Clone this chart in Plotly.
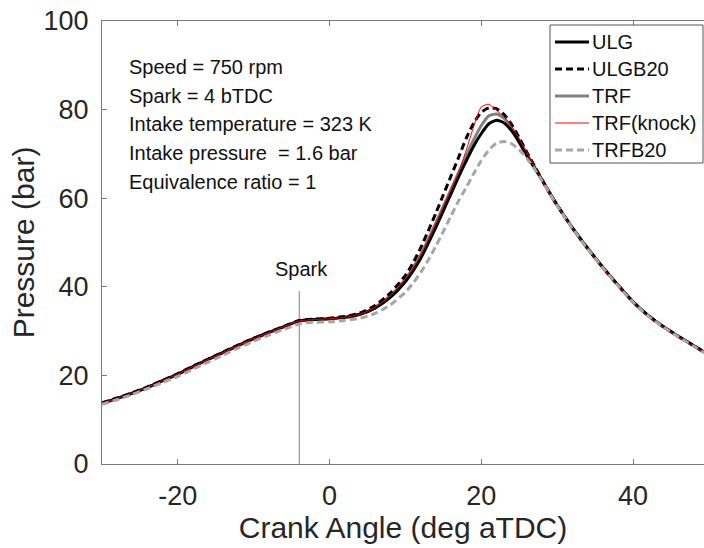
import plotly.graph_objects as go

# ---------------- data ----------------
angles = [-30, -28, -26, -24, -22, -20, -18, -16, -14, -12, -10, -8, -6, -4, -2,
          0, 2, 4, 6, 8, 10, 11, 12, 13, 14, 15, 16, 17, 18, 19, 20, 21, 22, 23,
          24, 25, 26, 27, 28, 29, 30, 32, 34, 36, 38, 40, 42, 44, 46, 48, 50]

ulg = [13.7, 14.8, 16.0, 17.3, 18.8, 20.3, 22.0, 23.6, 25.2, 26.8, 28.3, 29.7, 31.0, 32.3, 32.6,
       32.8, 33.1, 33.8, 35.2, 37.6, 41.2, 43.6, 46.4, 49.8, 53.4, 57.2, 61.0, 64.8, 68.4, 71.8,
       74.6, 76.8, 77.6, 77.0, 75.2, 72.6, 69.6, 66.9, 64.1, 61.2, 58.4, 53.3, 48.7, 44.4, 40.4,
       36.6, 33.5, 31.0, 28.8, 26.7, 24.6]

ulgb20 = [13.8, 14.9, 16.1, 17.4, 18.9, 20.4, 22.1, 23.7, 25.3, 26.9, 28.4, 29.8, 31.1, 32.4, 32.7,
          32.9, 33.3, 34.1, 35.8, 38.6, 42.6, 45.4, 48.8, 52.6, 56.6, 60.8, 65.0, 69.2, 73.5, 77.0,
          79.4, 80.4, 80.2, 78.9, 76.6, 73.6, 70.4, 67.3, 64.2, 61.2, 58.4, 53.3, 48.7, 44.4, 40.4,
          36.6, 33.5, 31.0, 28.8, 26.7, 24.6]

trf = [13.7, 14.8, 16.0, 17.3, 18.8, 20.3, 22.0, 23.6, 25.2, 26.8, 28.3, 29.7, 31.0, 32.3, 32.6,
       32.8, 33.1, 33.8, 35.4, 38.0, 41.8, 44.3, 47.2, 50.7, 54.4, 58.2, 62.0, 65.8, 69.6, 73.2,
       76.4, 78.6, 79.0, 78.0, 75.9, 73.1, 70.0, 67.0, 64.1, 61.2, 58.4, 53.3, 48.7, 44.4, 40.4,
       36.6, 33.5, 31.0, 28.8, 26.7, 24.6]

trf_knock = [13.7, 14.8, 16.0, 17.3, 18.8, 20.3, 22.0, 23.6, 25.2, 26.8, 28.3, 29.7, 31.0, 32.3, 32.6,
             32.8, 33.1, 33.8, 35.4, 38.0, 41.8, 44.3, 47.2, 50.7, 54.4, 58.2, 62.0, 65.8, 70.8, 76.2,
             80.6, 81.2, 79.8, 78.4, 76.2, 73.4, 70.3, 67.2, 64.0, 61.0, 58.2, 53.1, 48.5, 44.2, 40.2,
             36.4, 33.3, 30.8, 28.6, 26.5, 24.4]

trfb20 = [13.5, 14.5, 15.7, 17.0, 18.4, 19.8, 21.4, 23.0, 24.6, 26.2, 27.7, 29.1, 30.4, 31.6, 32.0,
          32.1, 32.4, 32.9, 34.0, 35.9, 38.8, 40.8, 43.2, 46.0, 49.2, 52.5, 56.0, 59.4, 62.4, 65.6,
          68.5, 70.9, 72.4, 72.8, 72.3, 70.9, 69.0, 66.6, 63.9, 61.1, 58.3, 53.2, 48.6, 44.3, 40.3,
          36.5, 33.4, 30.9, 28.7, 26.6, 24.5]

spark_angle = -4
spark_line_top = 39

series_names = ["ULG", "ULGB20", "TRF", "TRF(knock)", "TRFB20"]
info_lines = ["Speed = 750 rpm", "Spark = 4 bTDC", "Intake temperature = 323 K",
              "Intake pressure  = 1.6 bar", "Equivalence ratio = 1"]

x_ticks = [-20, 0, 20, 40]
x_tick_labels = ["-20", "0", "20", "40"]
y_ticks = [0, 20, 40, 60, 80, 100]
y_tick_labels = ["0", "20", "40", "60", "80", "100"]

# ---------------- figure ----------------
FONT = "Liberation Sans, Arial, Helvetica, sans-serif"
TXT = "#262626"
AX = "#7a7a7a"
L, T, W, H = 102, 21, 602, 443


def px(xp):
    return (xp - L) / W


def py(yp):
    return 1 - (yp - T) / H


fig = go.Figure()

# spark marker line
fig.add_trace(go.Scatter(x=[spark_angle, spark_angle], y=[0, spark_line_top], mode="lines",
                         line=dict(color="#7f7f7f", width=1), showlegend=False, hoverinfo="skip"))

styles = {
    "ULG": dict(color="#000000", width=3),
    "ULGB20": dict(color="#000000", width=3, dash="7px,4px"),
    "TRF": dict(color="#808080", width=3),
    "TRF(knock)": dict(color="#ff0000", width=1),
    "TRFB20": dict(color="#a6a6a6", width=3, dash="7px,4px"),
}
values = {"ULG": ulg, "ULGB20": ulgb20, "TRF": trf, "TRF(knock)": trf_knock, "TRFB20": trfb20}
draw_order = ["TRF", "ULG", "ULGB20", "TRF(knock)", "TRFB20"]
for name in draw_order:
    fig.add_trace(go.Scatter(x=angles, y=values[name], mode="lines", name=name,
                             line=dict(shape="spline", smoothing=0.6, **styles[name]),
                             showlegend=False))

# legend box (drawn by hand to match the original spacing)
fig.add_shape(type="rect", xref="paper", yref="paper", x0=px(550), x1=px(703), y0=py(163), y1=py(25),
              line=dict(color="#555555", width=1), fillcolor="white", layer="above")
legend_rows = [42, 69, 96, 123, 150]
for name, ry in zip(series_names, legend_rows):
    st = styles[name]
    fig.add_shape(type="line", xref="paper", yref="paper", x0=px(555), x1=px(589), y0=py(ry), y1=py(ry),
                  line=dict(color=st["color"], width=st["width"], dash=st.get("dash", "solid")),
                  layer="above")
    fig.add_annotation(x=px(589.5), y=py(ry), xref="paper", yref="paper", text=name, showarrow=False,
                       xanchor="left", yanchor="middle",
                       font=dict(family=FONT, size=20, color="#111111"))

# info text block
line_px = [67.3, 96.0, 124.5, 153.0, 181.7]
for txt, yy in zip(info_lines, line_px):
    fig.add_annotation(x=px(126.5), y=py(yy), xref="paper", yref="paper",
                       text=txt, showarrow=False, xanchor="left", yanchor="middle",
                       font=dict(family=FONT, size=20, color="#111111"))

fig.add_annotation(x=spark_angle + 0.3, y=44, xref="x", yref="y", text="Spark", showarrow=False,
                   xanchor="center", yanchor="middle", font=dict(family=FONT, size=20, color="#111111"))

fig.update_layout(
    width=704, height=548,
    margin=dict(l=L, r=0, t=T, b=548 - T - H, pad=0),
    paper_bgcolor="white", plot_bgcolor="white",
    font=dict(family=FONT, color=TXT),
    showlegend=False,
    xaxis=dict(range=[-30, 49.35], tickvals=x_ticks, ticktext=x_tick_labels,
               ticks="inside", ticklen=5, tickcolor=AX,
               showline=True, linecolor=AX, linewidth=1, mirror="ticks", showgrid=False,
               zeroline=False, tickfont=dict(size=27, color=TXT), ticklabelstandoff=8,
               title=dict(text="Crank Angle (deg aTDC)", font=dict(size=30, color=TXT), standoff=1)),
    yaxis=dict(range=[0, 100], tickvals=y_ticks, ticktext=y_tick_labels,
               ticks="inside", ticklen=5, tickcolor=AX,
               showline=True, linecolor=AX, linewidth=1, showgrid=False, zeroline=False,
               tickfont=dict(size=27, color=TXT), ticklabelstandoff=7,
               title=dict(text="Pressure (bar)", font=dict(size=30, color=TXT), standoff=0)),
)

fig.write_html("out.html")
